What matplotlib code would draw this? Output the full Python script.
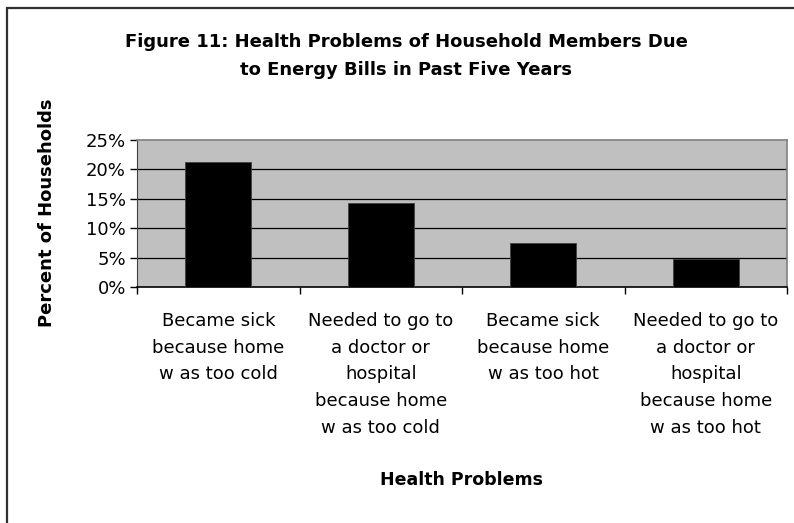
import matplotlib.pyplot as plt
from matplotlib.patches import Rectangle
from matplotlib.ticker import FixedLocator, PercentFormatter

categories = [
    "Became sick\nbecause home\nw as too cold",
    "Needed to go to\na doctor or\nhospital\nbecause home\nw as too cold",
    "Became sick\nbecause home\nw as too hot",
    "Needed to go to\na doctor or\nhospital\nbecause home\nw as too hot",
]
percent = [21.3, 14.3, 7.5, 4.8]
y_ticks = [0, 5, 10, 15, 20, 25]

W, H = 794, 523
plt.rcParams['font.family'] = ['DejaVu Sans']

fig = plt.figure(figsize=(W / 100, H / 100), dpi=100)
fig.patch.set_facecolor('white')

# chart border (cropped on the right and bottom in the original)
fig.patches.append(Rectangle((7 / W, -0.2), 1.5, 1 - 8 / H + 0.2, transform=fig.transFigure,
                             fill=False, edgecolor='#303030', linewidth=1.6))

# plot area in pixel coordinates
left, top, right, bottom = 137, 140, 787, 287
ax = fig.add_axes([left / W, 1 - bottom / H, (right - left) / W, (bottom - top) / H])
ax.set_facecolor('#c0c0c0')

x = list(range(len(categories)))
ax.bar(x, percent, width=0.406, color='black', edgecolor='#404040', linewidth=0.6, zorder=3)

ax.set_xlim(-0.5, len(categories) - 0.5)
ax.set_ylim(0, 25)
ax.set_yticks(y_ticks)
ax.yaxis.set_major_formatter(PercentFormatter(decimals=0))
for v in y_ticks[1:-1]:
    ax.axhline(v, color='black', linewidth=0.9, zorder=1)

ax.set_xticks(x)
ax.set_xticklabels(categories, fontsize=13, linespacing=1.62)
ax.xaxis.set_minor_locator(FixedLocator([i - 0.5 for i in range(len(categories) + 1)]))
ax.tick_params(axis='x', which='major', length=0, pad=18)
ax.tick_params(axis='x', which='minor', length=5, width=1, color='black')
ax.tick_params(axis='y', length=5, width=1, color='black', labelsize=13, pad=3)

for side in ['top', 'right']:
    ax.spines[side].set_color('#808080')
    ax.spines[side].set_linewidth(1.2)
ax.spines['left'].set_color('#404040')
ax.spines['bottom'].set_color('black')
ax.spines['bottom'].set_linewidth(1.2)

fig.text(406 / W, 1 - 56 / H, "Figure 11: Health Problems of Household Members Due\nto Energy Bills in Past Five Years",
         ha='center', va='center', fontsize=13, fontweight='bold', linespacing=1.65)
fig.text(47 / W, 1 - 213 / H, "Percent of Households", rotation=90, ha='center', va='center',
         fontsize=13, fontweight='bold')
fig.text((left + right) / 2 / W, 1 - 480 / H, "Health Problems", ha='center', va='center',
         fontsize=12.5, fontweight='bold')

fig.savefig('out.png', dpi=100)
